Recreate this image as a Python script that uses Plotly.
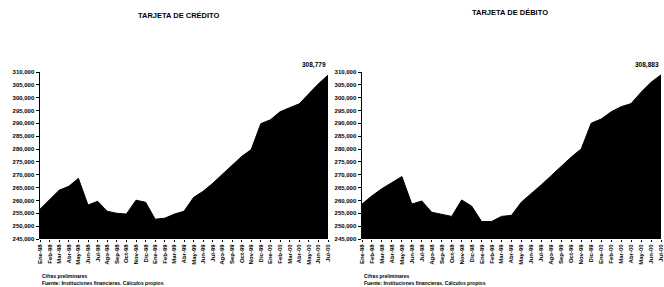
import plotly.graph_objects as go

months = ["Ene", "Feb", "Mar", "Abr", "May", "Jun", "Jul", "Ago", "Sep", "Oct", "Nov", "Dic"]
periods = [f"{months[i % 12]}-{(98 + i // 12) % 100:02d}" for i in range(31)]

credito = [256600, 260500, 264000, 265500, 268600, 258200, 259700, 255800, 255000, 254700,
           260100, 259300, 252700, 253100, 254700, 255800, 261200, 263600, 266700, 270200,
           273600, 277100, 279800, 289900, 291400, 294500, 296100, 297600, 301500, 305400,
           308779]
debito = [258600, 261800, 264600, 267000, 269300, 258600, 259800, 255400, 254600, 253800,
          260200, 257800, 251800, 251800, 253800, 254200, 259400, 262600, 266100, 269700,
          273300, 276900, 280100, 290100, 291700, 294500, 296500, 297700, 302100, 306000,
          308883]
titles = ["TARJETA DE CRÉDITO", "TARJETA DE DÉBITO"]
y_ticks = list(range(245000, 310001, 5000))
note = "Cifras preliminares"
source = "Fuente: Instituciones financieras. Cálculos propios"

W, H = 664, 287
fig = go.Figure()

FONT = "Liberation Sans"

fig.add_trace(go.Scatter(x=periods, y=credito, mode="lines", fill="tozeroy",
                         line=dict(color="black", width=1), fillcolor="black",
                         xaxis="x", yaxis="y", showlegend=False))
fig.add_trace(go.Scatter(x=periods, y=debito, mode="lines", fill="tozeroy",
                         line=dict(color="black", width=1), fillcolor="black",
                         xaxis="x2", yaxis="y2", showlegend=False))

def px_x(v):
    return v / W

def px_y(v):
    return 1 - v / H

ydom = [px_y(239), px_y(72)]
xaxis_common = dict(type="category", range=[0, 30], tickangle=-90, showline=False,
                    ticks="outside", ticklen=2, tickcolor="black", automargin=False,
                    tickfont=dict(family=FONT, size=6, color="black", weight="bold"),
                    showgrid=False, zeroline=False, fixedrange=True)
yaxis_common = dict(range=[245000, 310000], tickvals=y_ticks, tickformat=",d",
                    showline=True, linecolor="black", linewidth=1.5, automargin=False,
                    ticks="outside", ticklen=3, tickcolor="black",
                    tickfont=dict(family=FONT, size=6, color="black", weight="bold"),
                    showgrid=False, zeroline=False, domain=ydom)

fig.update_layout(
    width=W, height=H,
    margin=dict(l=0, r=0, t=0, b=0, autoexpand=False),
    paper_bgcolor="white", plot_bgcolor="white",
    xaxis=dict(domain=[px_x(40), px_x(328)], anchor="y", **xaxis_common),
    yaxis=dict(anchor="x", **yaxis_common),
    xaxis2=dict(domain=[px_x(362), px_x(661)], anchor="y2", **xaxis_common),
    yaxis2=dict(anchor="x2", **yaxis_common),
)

annos = [
    dict(text=titles[0], x=px_x(179), y=px_y(15)),
    dict(text=titles[1], x=px_x(510), y=px_y(13)),
]
for a in annos:
    fig.add_annotation(xref="paper", yref="paper", x=a["x"], y=a["y"], text=a["text"],
                       showarrow=False, xanchor="center", yanchor="middle",
                       font=dict(family=FONT, size=7.5, color="black", weight="bold"))

# value labels on last points
fig.add_annotation(xref="x", yref="y", x=periods[-1], y=credito[-1], text=f"{credito[-1]:,}",
                   showarrow=False, xanchor="right", yanchor="bottom", yshift=4,
                   font=dict(family=FONT, size=6.5, color="black", weight="bold"))
fig.add_annotation(xref="x2", yref="y2", x=periods[-1], y=debito[-1], text=f"{debito[-1]:,}",
                   showarrow=False, xanchor="right", yanchor="bottom", yshift=4,
                   font=dict(family=FONT, size=6.5, color="black", weight="bold"))

for x0 in (40, 362):
    fig.add_annotation(xref="paper", yref="paper", x=px_x(x0), y=px_y(276), text=note,
                       showarrow=False, xanchor="left", yanchor="middle",
                       font=dict(family=FONT, size=5, color="black", weight="bold"))
    fig.add_annotation(xref="paper", yref="paper", x=px_x(x0), y=px_y(283), text=source,
                       showarrow=False, xanchor="left", yanchor="middle",
                       font=dict(family=FONT, size=5, color="black", weight="bold"))

fig.write_html("out.html", config={"displayModeBar": False, "staticPlot": True},
               post_script="document.body.style.margin='0';document.body.style.overflow='hidden';")
